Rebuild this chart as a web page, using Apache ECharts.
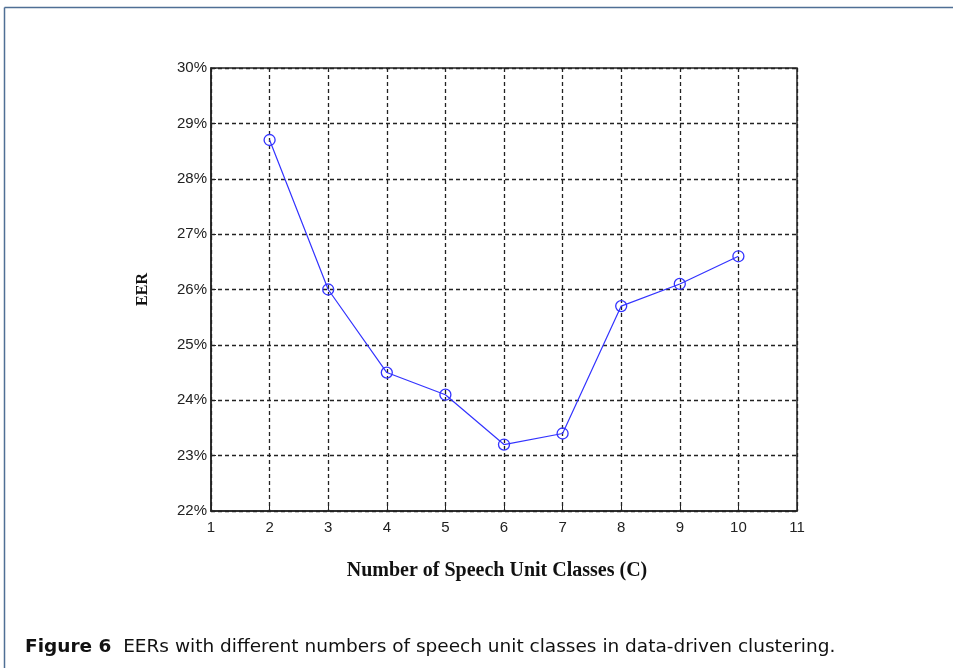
<!DOCTYPE html>
<html>
<head>
<meta charset="utf-8">
<script src="https://cdn.jsdelivr.net/npm/echarts@6/dist/echarts.min.js"></script>
<style>
html,body{margin:0;padding:0;background:#fff;}
#chart{width:953px;height:668px;}
</style>
</head>
<body>
<div id="chart"></div>
<script>
var classes = [2, 3, 4, 5, 6, 7, 8, 9, 10];
var eer = [28.7, 26.0, 24.5, 24.1, 23.2, 23.4, 25.7, 26.1, 26.6];
var xTitle = 'Number of Speech Unit Classes (C)';
var yTitle = 'EER';
var captionBold = 'Figure 6';
var captionText = 'EERs with different numbers of speech unit classes in data-driven clustering.';

var chart = echarts.init(document.getElementById('chart'));
var points = classes.map(function (c, i) { return [c, eer[i]]; });
var option = {
  backgroundColor: '#fff',
  animation: false,
  grid: { left: 211, top: 68, width: 586, height: 443, show: true, borderColor: '#222', borderWidth: 1.5, backgroundColor: 'transparent' },
  xAxis: {
    type: 'value', min: 1, max: 11, interval: 1,
    name: xTitle, nameLocation: 'middle', nameGap: 50,
    nameTextStyle: { fontFamily: 'Liberation Serif', fontWeight: 'bold', fontSize: 20, color: '#111', padding: [0, 14, 0, 0] },
    axisLine: { show: true, lineStyle: { color: '#222', width: 1.5 } },
    axisTick: { show: true, inside: true, length: 5, lineStyle: { color: '#222' } },
    axisLabel: { fontFamily: 'Liberation Sans', fontSize: 15, color: '#222', margin: 9 },
    splitLine: { show: true, lineStyle: { color: '#222', type: [4, 3], width: 1.3 } }
  },
  yAxis: {
    type: 'value', min: 22, max: 30, interval: 1,
    name: yTitle, nameLocation: 'middle', nameGap: 60, nameRotate: 90,
    nameTextStyle: { fontFamily: 'Liberation Serif', fontWeight: 'bold', fontSize: 16, color: '#111' },
    axisLine: { show: true, lineStyle: { color: '#222', width: 1.5 } },
    axisTick: { show: true, inside: true, length: 5, lineStyle: { color: '#222' } },
    axisLabel: { fontFamily: 'Liberation Sans', fontSize: 15, color: '#222', margin: 4, formatter: '{value}%' },
    splitLine: { show: true, lineStyle: { color: '#222', type: [4, 3], width: 1.3 } }
  },
  series: [{
    type: 'line', data: points,
    symbol: 'circle', symbolSize: 11, showAllSymbol: true,
    lineStyle: { color: '#3333ff', width: 1.2 },
    itemStyle: { color: 'rgba(0,0,0,0)', borderColor: '#3333ff', borderWidth: 1.3 }
  }],
  graphic: [
    { type: 'line', shape: { x1: 4.5, y1: 7.5, x2: 953, y2: 7.5 }, style: { stroke: '#4f6f95', lineWidth: 1.5 } },
    { type: 'line', shape: { x1: 4.5, y1: 7.5, x2: 4.5, y2: 668 }, style: { stroke: '#4f6f95', lineWidth: 1.5 } },
    { type: 'text', left: 25, top: 638, style: {
      text: '{b|' + captionBold + '}  ' + captionText,
      fontFamily: 'DejaVu Sans', fontSize: 18.5, fill: '#111',
      rich: { b: { fontFamily: 'DejaVu Sans', fontWeight: 'bold', fontSize: 18.5, fill: '#111' } }
    } }
  ]
};
chart.setOption(option);
</script>
</body>
</html>
